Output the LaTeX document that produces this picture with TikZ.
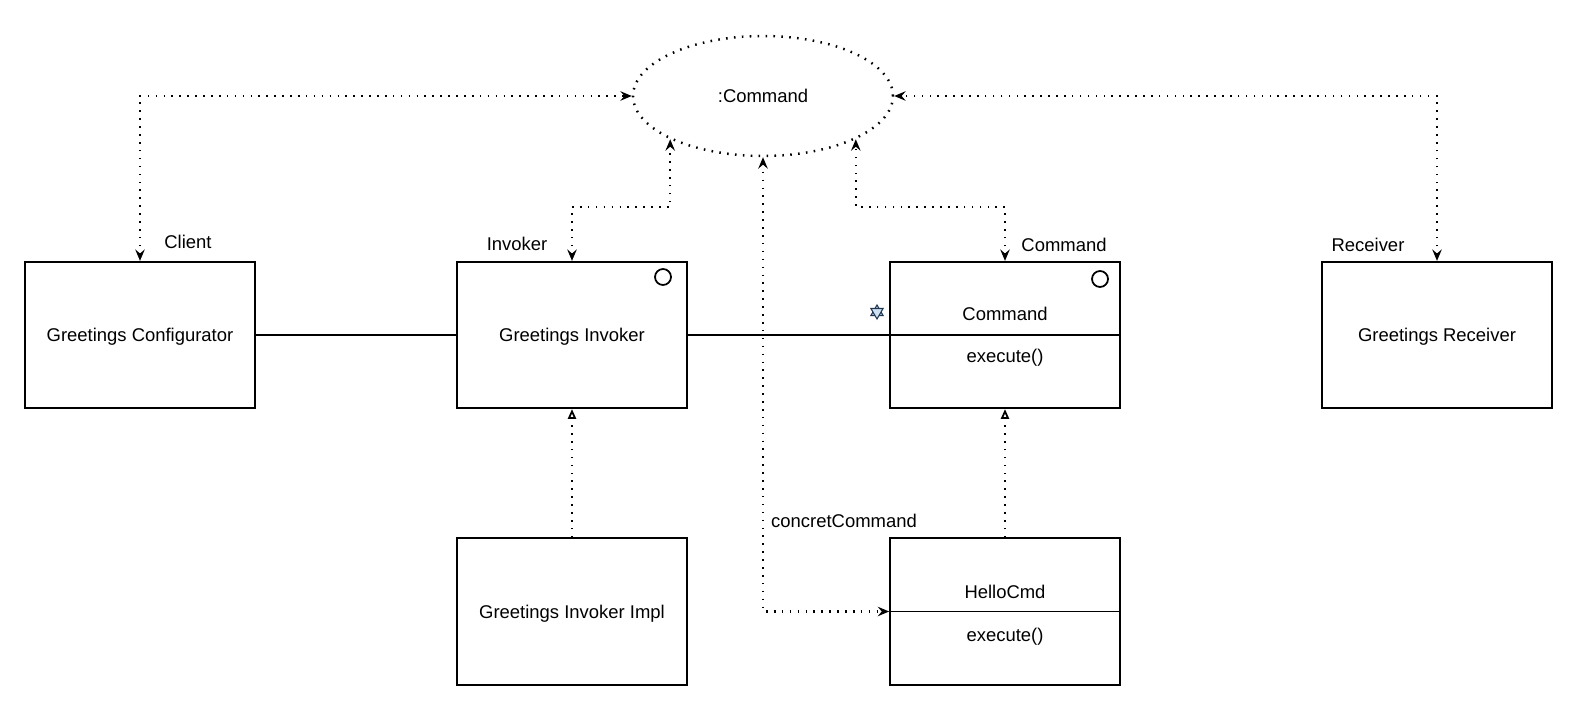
\documentclass[tikz,border=0pt]{standalone}
\usepackage{fontspec}
\setmainfont{Liberation Sans}
\usetikzlibrary{arrows.meta,shapes.geometric}

\definecolor{starblue}{HTML}{CFE2F3}
\definecolor{stardark}{HTML}{1F3550}

\tikzset{
	classbox/.style={draw, line width=1pt, minimum width=4.6cm, minimum height=2.93cm, inner sep=0pt, text depth=0pt, text height=7.6pt},
	objnode/.style={ellipse, draw, line width=1.4pt, dash pattern=on 0.9pt off 3.6pt, minimum width=5.2cm, minimum height=2.4cm, inner sep=0pt},
	roleline/.style={line width=1.4pt, dash pattern=on 0.9pt off 3.6pt, {Stealth[length=6.5pt,width=5.4pt,inset=2.3pt]}-{Stealth[length=6.5pt,width=5.4pt,inset=2.3pt]}},
	assoc/.style={line width=1pt},
	realize/.style={line width=1.4pt, dash pattern=on 0.9pt off 3.6pt, -{Triangle[open,length=5.5pt,width=4.6pt,line width=1pt]}},
	rolelabel/.style={inner sep=0pt},
	iface/.style={circle, draw, line width=1pt, minimum size=0.32cm, inner sep=0pt},
}

\begin{document}
\begin{tikzpicture}[x=0.02cm, y=-0.02cm, every node/.style={font=\fontsize{10.5pt}{12.6pt}\selectfont}]
			%%%%% START %%%%%
			\useasboundingbox (0, 0) rectangle (1579, 702);
			
			\node[objnode] (obj) at (763, 96) {:Command};
			
			\node[classbox] (cfg) at (140, 335) {Greetings Configurator};
			\node[classbox] (inv) at (572, 335) {Greetings Invoker};
			\node[classbox] (cmd) at (1005, 335) {};
			\node[classbox] (rcv) at (1437, 335) {Greetings Receiver};
			\node[classbox] (invimpl) at (572, 611.5) {Greetings Invoker Impl};
			\node[classbox] (hello) at (1005, 611.5) {};
			
			% class compartments
			\draw[assoc] (cmd.west) -- (cmd.east);
			\node (cmdname) at (1005, 314) {Command};
			\node (cmdop) at (1005, 358) {execute()};
			\draw[assoc] (hello.west) -- (hello.east);
			\node (helloname) at (1005, 592) {HelloCmd};
			\node (helloop) at (1005, 637) {execute()};
			
			\node[iface] (invicon) at (663, 277) {};
			\node[iface] (cmdicon) at (1100, 279) {};
			
			\filldraw[fill=starblue, draw=stardark, line width=0.6pt] (877, 305) -- (883.1, 315.5) -- (870.9, 315.5) -- cycle;
			\filldraw[fill=starblue, draw=stardark, line width=0.6pt] (877, 319) -- (883.1, 308.5) -- (870.9, 308.5) -- cycle;
			
			% role labels
			\node[rolelabel] (lblclient) at (188, 242) {Client};
			\node[rolelabel] (lblinv) at (517, 244) {Invoker};
			\node[rolelabel] (lblcmd) at (1064, 245) {Command};
			\node[rolelabel] (lblrcv) at (1368, 245) {Receiver};
			\node[rolelabel] (lblconc) at (844, 521) {concretCommand};
			
			% roles
			\draw[roleline] (cfg.north) |- (obj.west);
			\draw[roleline] (rcv.north) |- (obj.east);
			\draw[roleline] (inv.north) -- ++(0, -54) -| (obj.205);
			\draw[roleline] (cmd.north) -- ++(0, -54) -| (obj.335);
			\draw[roleline] (obj.south) |- (hello.west);
			
			\draw[assoc] (cfg.east) -- (inv.west);
			\draw[assoc] (inv.east) -- (cmd.west);
			
			\draw[realize] (invimpl.north) -- (inv.south);
			\draw[realize] (hello.north) -- (cmd.south);
			
			%%%%% END %%%%%
\end{tikzpicture}
\end{document}
